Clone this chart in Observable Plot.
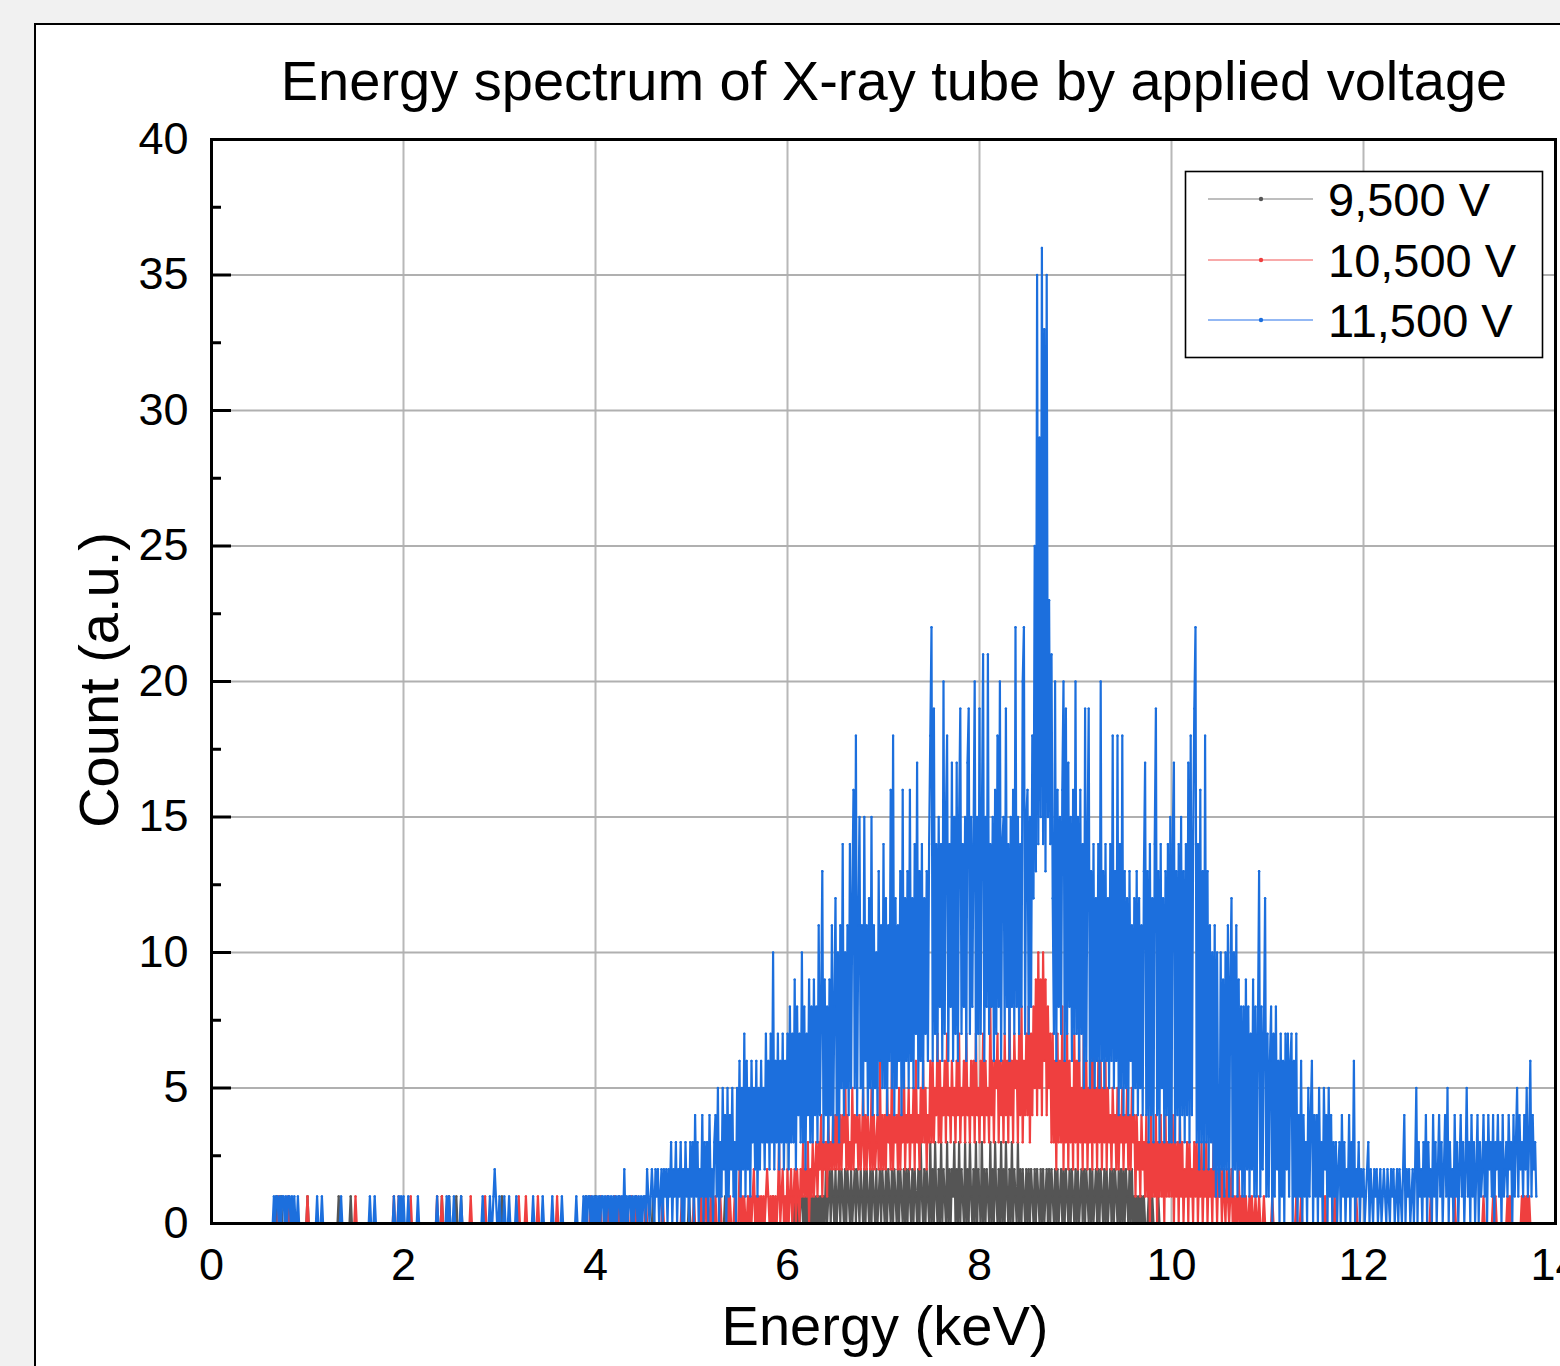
<!DOCTYPE html>
<html>
<head>
<meta charset="utf-8">
<script src="https://cdn.jsdelivr.net/npm/d3@7"></script>
<script src="https://cdn.jsdelivr.net/npm/@observablehq/plot@0.6"></script>
<style>
  html, body { margin: 0; padding: 0; background: #f1f1f1; width: 1560px; height: 1366px; overflow: hidden; }
  #stage { position: relative; width: 1560px; height: 1366px; overflow: hidden; font-family: "Liberation Sans", Arial, sans-serif; }
  #panel { position: absolute; left: 34px; top: 23px; width: 1600px; height: 1400px; background: #fff; border: 2px solid #000; }
  #chart { position: absolute; left: 0; top: 0; }
  #overlay { position: absolute; left: 0; top: 0; }
</style>
</head>
<body>
<div id="stage">
  <div id="panel"></div>
  <div id="chart"></div>
  <svg id="overlay" width="1560" height="1366"></svg>
</div>
<script>
// ---------------- DATA ----------------
const titleText = "Energy spectrum of X-ray tube by applied voltage";
const xTitle = "Energy (keV)";
const yTitle = "Count (a.u.)";
const seriesNames = ["9,500 V", "10,500 V", "11,500 V"];
const seriesColors = ["#555555", "#ef3f3f", "#1c6fdd"];
const swatchColors = ["#a9a9a9", "#f68c8c", "#6fa0f0"];
const xTicks = [0, 2, 4, 6, 8, 10, 12, 14];
const yTicks = [0, 5, 10, 15, 20, 25, 30, 35, 40];
const yMinorTicks = [2.5, 7.5, 12.5, 17.5, 22.5, 27.5, 32.5, 37.5];
const channelStep = 0.0125; // keV per channel
// counts per channel; one character per channel (0-9, a=10 ... z=35, Z=36); each string = 20 channels = 0.25 keV
const countDigits = "0123456789abcdefghijklmnopqrstuvwxyzZ";

const counts9500 = [
  "00000000000000000000","00000000000000000000","00000000000000100010","00000000000000000000",
  "10000000000000000000","00000010000000001000","00000000000000000000","00000000000000000000",
  "00000000000000000000","00000000000010000010","00001000100000000000","00000000000000000000",
  "00100000000000000000","00000000000000000000","00000000000000000000","00000000000010000000",
  "10000000000000000000","00000000000000000000","00000000100000000000","00000000000000000010",
  "00000000000000000000","00000000100000000000","00000000000000000000","00000000100000000000",
  "00000101010110101010","10101010101020120210","20120210202102012021","02102021020210201202",
  "10202102021020210202","02102021020310202103","02031020302103020213","02030210302031020302",
  "10302021030203102030","20310203021030202102","02021020210202012020","21020201202021020210",
  "20201202021020201202","02102020120202102020","20210202010101010100","01001000010000000000",
  "00000000000000000000","00000000000000000000","00000000000000000000","00000000000000000000",
  "00000000000000000000","00000000000000000000","00000000000000000000","00000000000000000000",
  "00000000000000000000","00000000000000000000","00000000000000000000","00000000000000000000",
  "00000000000000000000","00000000000000000000","00000000000000000000","00000"
];

const counts10500 = [
  "00000000000000000000","00000000000000000000","00000000000000001000","00001000000000000000",
  "10000000000000000000","00000000000000000000","10000000000000000000","00000000000010001000",
  "00000010000000000000","00000000100010000000","00000000000000001000","00000000100000000000",
  "00000000000000001000","00100000000010000000","00000000100000000000","00000000000000001000",
  "00001000001000001000","10001000001000100000","00100000000000001000","00000000000010000000",
  "00100000100020001000","10001000001010001000","20101001010120101010","10121010101013012010",
  "20120120210213121302","13123132413231423242","42524243624232524342","42352424325242342624",
  "24253426243425243624","35243526342536352436","36354736354637453645","36473546374536463745",
  "36473645384636573646","37463846375637483647","483748594a594a694857","37362736382637263527",
  "36273528362536273526","36253625342534252435","24352425341423142314","13041314031413041314",
  "14031304130213031203","13021302130212031202","12021021012010102010","10100101001001000100",
  "00001000000000000000","00001000100000000000","00000000100000001000","00000000000000100000",
  "00000000000000000000","00000000000000000000","00000000000000001000","00000000000000001000",
  "00000000000000000000","10000000101000000000","10100000000010101010","00000"
];

const counts11500 = [
  "00000000000000000000","00000000000000000000","00000000000010110101","10101101010010000000",
  "00000000100010000000","00000000100000000000","00000000000010001000","00000000000010001010",
  "10001000000010000000","00000000100000001010","00100000100000000000","00000010000010012100",
  "10001000100000100000","00000000100000001000","00001000000010000000","00001000001010110101",
  "01010110101101010101","10102010110101101010","11021012102120120212","02130213021302031203",
  "13041302140313041203","41503152405142513052","61527162516352615263","52736273a26372637263",
  "728373928473a3827493","839483b48d3948394b38","c4a3b5e4a5b4e5cg5i4b","f5b4f6b4c5f4b5a4d6b5",
  "e5c4b6g5i4c5b6d4g5c6","d5g6c5e7h5d6e5c7d6ei","m6j7e6f8e6k7fi6e8h6f","7h6fj7e8f6hj7f8ek6f7",
  "j7fl6f8l7e8f6g7i8k6e","f7j8e6f8g7m8f7e8km7f","g7f8icpdzetfZexdzfne","lc7k6g8f7gk6j7h8f6g7",
  "k7f6g7e5j6ej5d6e5c6e","5k6d5e6c5e6i5d6i4e5i","4d5c4d6b4c5d4c5b4dh4","d3e4c3ej4d3e5c3d4e3f",
  "3eh3d4e3f4d3e4h3i4ej","m3e2g3d2i3d2b3a2b1a2","1a291a2b19c1a2b19281","8192817291817d1827c1",
  "71680718260716072716","70617041604130514604","14051305240514031302","30413021403160213021",
  "20123021021201201210","21021201202102402120","12025031203140312041","30241302415031204130",
  "24130251304130240312","41304231403241304123","14230413514231425136","14231"
];

// ---------------- BUILD ----------------
function toRows(chunks) {
  return chunks.join("").split("").map((c, i) => ({ e: i * channelStep, v: countDigits.indexOf(c) }));
}
const allCounts = [counts9500, counts10500, counts11500];
const seriesRows = allCounts.map(toRows);

const FONT = '"Liberation Sans", Arial, sans-serif';
const frameW = 1555 - 211;

const marks = [
  Plot.gridX(xTicks.filter(d => d > 0 && d < 14), { stroke: "#b8b8b8", strokeOpacity: 1, strokeWidth: 2 }),
  Plot.gridY(yTicks.filter(d => d > 0 && d < 40), { stroke: "#b0b0b0", strokeOpacity: 1, strokeWidth: 2 })
];
seriesRows.forEach((rows, k) => {
  marks.push(Plot.line(rows, { x: "e", y: "v", stroke: seriesColors[k], strokeWidth: 2.2, strokeOpacity: 1 }));
  marks.push(Plot.dot(rows, { x: "e", y: "v", r: 1.2, fill: seriesColors[k], stroke: "none" }));
});
marks.push(
  Plot.frame({ stroke: "#000", strokeWidth: 3 }),
  Plot.tickY(yTicks, { y: d => d, insetRight: frameW - 20, stroke: "#000", strokeWidth: 3 }),
  Plot.tickY(yMinorTicks, { y: d => d, insetRight: frameW - 10, stroke: "#000", strokeWidth: 3 }),
  Plot.axisX({ ticks: xTicks, tickSize: 0, tickPadding: 25, fontSize: 45, label: null }),
  Plot.axisY({ ticks: yTicks, tickSize: 0, tickPadding: 23, fontSize: 45, label: null })
);

const chart = Plot.plot({
  width: 1560,
  height: 1366,
  marginLeft: 211,
  marginRight: 5,
  marginTop: 139,
  marginBottom: 143,
  x: { domain: [0, 14], label: null },
  y: { domain: [0, 40], label: null },
  style: { background: "transparent", fontFamily: FONT, color: "#000", overflow: "visible" },
  marks
});
document.getElementById("chart").appendChild(chart);

// ---------------- TEXT & LEGEND ----------------
const ov = d3.select("#overlay").style("font-family", FONT);
ov.append("text").attr("x", 894).attr("y", 100).attr("text-anchor", "middle")
  .attr("font-size", 56).attr("fill", "#000").text(titleText);
ov.append("text").attr("x", 885).attr("y", 1345).attr("text-anchor", "middle")
  .attr("font-size", 56).attr("fill", "#000").text(xTitle);
ov.append("text").attr("transform", "translate(118,680) rotate(-90)").attr("text-anchor", "middle")
  .attr("font-size", 56).attr("fill", "#000").text(yTitle);

const lg = ov.append("g");
lg.append("rect").attr("x", 1185.5).attr("y", 171.5).attr("width", 357).attr("height", 186)
  .attr("fill", "#fff").attr("stroke", "#000").attr("stroke-width", 1.6);
const rowY = [199, 260, 320];
seriesNames.forEach((name, k) => {
  const y = rowY[k];
  lg.append("line").attr("x1", 1208).attr("x2", 1313).attr("y1", y).attr("y2", y)
    .attr("stroke", swatchColors[k]).attr("stroke-width", 1.6);
  lg.append("circle").attr("cx", 1261).attr("cy", y).attr("r", 2.2).attr("fill", seriesColors[k]);
  lg.append("text").attr("x", 1328).attr("y", y + 16.5).attr("font-size", 47).attr("fill", "#000").text(name);
});
</script>
</body>
</html>
